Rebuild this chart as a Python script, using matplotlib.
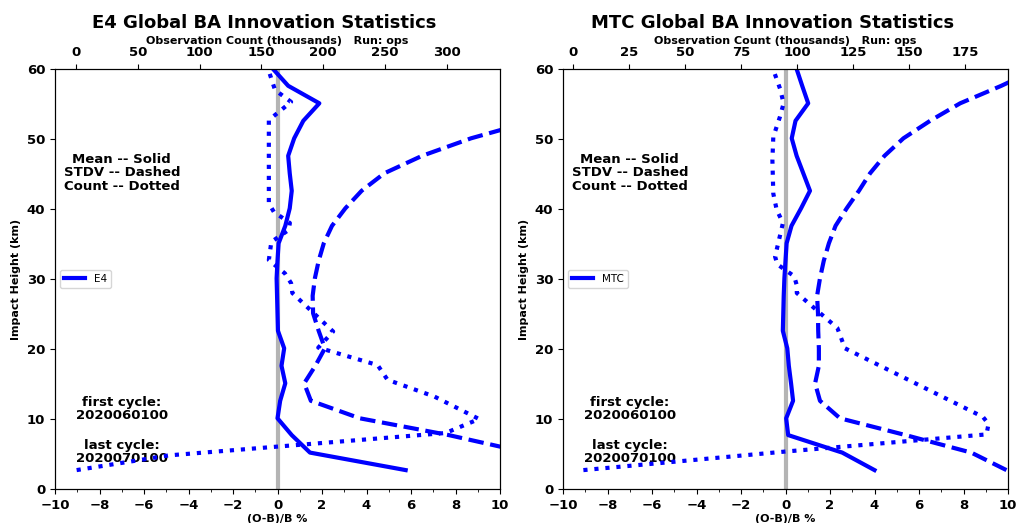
import numpy as np
import matplotlib
matplotlib.use("Agg")
import matplotlib.pyplot as plt
from matplotlib.ticker import MultipleLocator

# impact heights (km) for mean / stdv profiles
heights = [2.7, 5.2, 7.7, 10.1, 12.6, 15.1, 17.6, 20.1, 22.6, 25.1, 27.6, 30.1,
           32.6, 35.1, 37.6, 40.1, 42.6, 45.1, 47.6, 50.1, 52.6, 55.1, 57.6, 60.0]

nan = np.nan

# E4
e4_mean = [5.76, 1.46, 0.64, 0.0, 0.12, 0.35, 0.18, 0.3, 0.02, 0.0, -0.02, -0.04,
           0.0, 0.05, 0.35, 0.55, 0.64, 0.55, 0.48, 0.75, 1.16, 1.88, 0.48, -0.2]
e4_stdv = [nan, 11.2, 7.7, 3.7, 1.5, 1.2, 1.7, 2.13, 1.85, 1.6, 1.58, 1.68,
           1.85, 2.08, 2.45, 3.05, 3.78, 4.8, 6.5, 8.7, 11.5, nan, nan, nan]
e4_count_h = [2.7, 4.8, 8.0, 10.0, 13.2, 15.6, 17.7, 20.2, 22.5, 28.0, 29.4, 30.8,
              32.7, 35.3, 37.0, 38.0, 39.6, 40.8, 52.7, 55.3, 57.0, 59.7]
e4_count = [0.5, 75, 299, 326, 290, 252, 244, 196, 208, 175, 174, 169,
            156, 158, 172, 173, 160, 156, 156, 174, 161, 156]

# MTC
mtc_mean = [4.0, 2.55, 0.12, 0.03, 0.34, 0.25, 0.15, 0.08, -0.12, -0.1, -0.08, -0.05,
            0.0, 0.05, 0.27, 0.7, 1.1, 0.8, 0.5, 0.28, 0.45, 1.02, 0.75, 0.5]
mtc_stdv = [9.93, 8.35, 5.4, 2.45, 1.55, 1.33, 1.5, 1.5, 1.47, 1.46, 1.42, 1.55,
            1.72, 1.95, 2.25, 2.75, 3.3, 3.8, 4.45, 5.3, 6.5, 7.85, 9.7, 11.3]
mtc_count_h = [2.7, 5.3, 7.8, 9.3, 10.3, 20.1, 23.0, 28.0, 29.1, 30.4, 32.1, 33.2,
               38.0, 39.9, 42.2, 47.0, 50.3, 53.2, 55.1, 57.2, 59.9]
mtc_count = [4.6, 93, 184.6, 185.5, 183, 121.4, 118, 99.9, 99.9, 98.7, 91.2, 90.2,
             93.7, 90.9, 89.4, 89, 89.4, 92.4, 94, 92.4, 89.4]

panels = [
    ("E4", e4_mean, e4_stdv, e4_count_h, e4_count, (-17, 343), [0, 50, 100, 150, 200, 250, 300]),
    ("MTC", mtc_mean, mtc_stdv, mtc_count_h, mtc_count, (-4.5, 194.2), [0, 25, 50, 75, 100, 125, 150, 175]),
]

fig = plt.figure(figsize=(10.23, 5.23), dpi=100)
W, H = 1023.0, 523.0
lefts = [55, 563]
title_x = [264, 773]
txt = dict(ha='center', va='center', fontsize=9.5, fontweight='bold',
           multialignment='center', linespacing=1.05)

for i, (name, mean, stdv, ch, cnt, clim, cticks) in enumerate(panels):
    ax = fig.add_axes([lefts[i] / W, (H - 489) / H, 445 / W, 420 / H])
    ax.axvline(0, color='#b4b4b4', lw=3, zorder=1)
    ax.plot(mean, heights, color='blue', ls='-', lw=3, label=name, zorder=3)
    ax.plot(stdv, heights, color='blue', ls='--', lw=3, zorder=3)
    ax.set_xlim(-10, 10)
    ax.set_ylim(0, 60)
    ax.set_xticks(range(-10, 11, 2))
    ax.xaxis.set_minor_locator(MultipleLocator(1))
    ax.set_yticks(range(0, 61, 10))
    for lab in ax.get_xticklabels() + ax.get_yticklabels():
        lab.set_fontweight('bold')
        lab.set_fontsize(9.5)
    ax.set_xlabel('(O-B)/B %', fontsize=8, fontweight='bold', labelpad=2)
    ax.set_ylabel('Impact Height (km)', fontsize=8, fontweight='bold')
    ax.legend(loc='center left', fontsize=7.5)

    ax.text(-7.0, 45.2, 'Mean -- Solid\nSTDV -- Dashed\nCount -- Dotted', **txt)
    ax.text(-7.0, 11.4, 'first cycle:\n2020060100', **txt)
    ax.text(-7.0, 5.3, 'last cycle:\n2020070100', **txt)

    ax2 = ax.twiny()
    ax2.plot(cnt, ch, color='blue', ls=':', lw=3)
    ax2.set_xlim(*clim)
    ax2.set_xticks(cticks)
    for lab in ax2.get_xticklabels():
        lab.set_fontweight('bold')
        lab.set_fontsize(9.5)
    ax2.set_xlabel('Observation Count (thousands)   Run: ops', fontsize=8, fontweight='bold', labelpad=2)

    fig.text(title_x[i] / W, 1 - 22.5 / H, f'{name} Global BA Innovation Statistics',
             ha='center', va='center', fontsize=13, fontweight='bold')

fig.savefig('out.png', dpi=100)
